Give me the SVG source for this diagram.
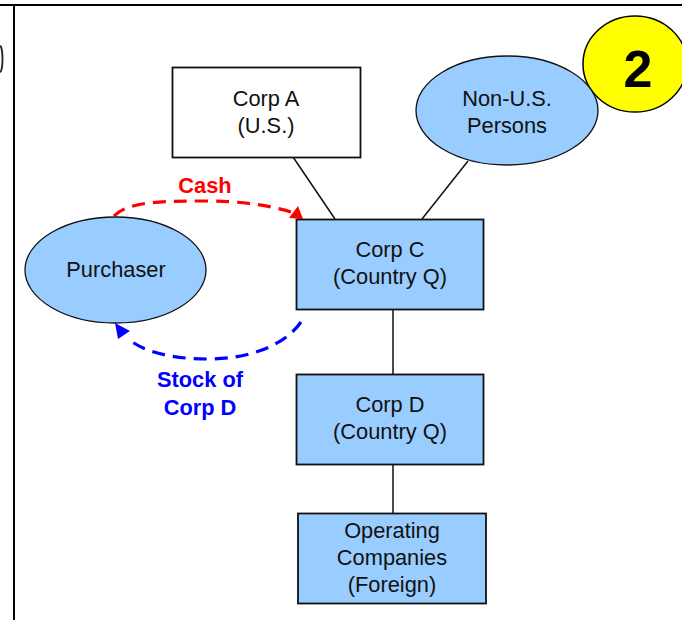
<svg xmlns="http://www.w3.org/2000/svg" width="682" height="620" viewBox="0 0 682 620">
<style>
text{font-family:"Liberation Sans",Arial,sans-serif;font-size:21.8px;fill:#111;text-anchor:middle}
.n{fill:#99ccff;stroke:#111;stroke-width:1.8}
.w{fill:#fff;stroke:#111;stroke-width:1.8}
.e{fill:#99ccff;stroke:#111;stroke-width:1.3}
.l{stroke:#111;stroke-width:1.5;fill:none}
.b{stroke:#000;stroke-width:2;fill:none}
.lab{font-weight:bold}
</style>
<rect width="682" height="620" fill="#fff"/>
<g id="frame">
<path class="b" d="M0 5H682M14 5V620"/>
<path d="M0 46 A2.500 13 0 0 1 0 72" fill="none" stroke="#222" stroke-width="1.800"/>
</g>
<g id="connectors">
<path class="l" d="M293 157L335 219M468 161L422 219M393 309V374M393 464V513"/>
<path d="M114 216C128 201 165 201 205 201C240 201 268 205 291 212" fill="none" stroke="#ff0000" stroke-width="3.200" stroke-dasharray="13 8"/>
<path d="M289 218L298 206L303 219Z" fill="#ff0000"/>
<path d="M301 322C285 345 250 359 208 359C170 359 142 351 127 338" fill="none" stroke="#0000ff" stroke-width="3.200" stroke-dasharray="13 8"/>
<path d="M115 323L130 331L118 339Z" fill="#0000ff"/>
</g>
<g id="corp-a"><rect class="w" x="172.500" y="67.500" width="188" height="90"/><text x="266" y="106">Corp A</text><text x="266" y="133">(U.S.)</text></g>
<g id="badge"><ellipse cx="635" cy="64" rx="52" ry="48" fill="#ffff00" stroke="#000" stroke-width="1.500"/><text x="638" y="87" style="font-size:52px;font-weight:bold;fill:#000">2</text></g>
<g id="non-us"><ellipse class="e" cx="507" cy="110.500" rx="91" ry="54.500"/><text x="507" y="106">Non-U.S.</text><text x="507" y="133">Persons</text></g>
<g id="purchaser"><ellipse class="e" cx="115.500" cy="270" rx="90.500" ry="53"/><text x="116" y="277">Purchaser</text></g>
<g id="corp-c"><rect class="n" x="296.500" y="219.500" width="187" height="90"/><text x="390" y="257">Corp C</text><text x="390" y="284">(Country Q)</text></g>
<g id="corp-d"><rect class="n" x="296.500" y="374.500" width="187" height="90"/><text x="390" y="412">Corp D</text><text x="390" y="439">(Country Q)</text></g>
<g id="operating"><rect class="n" x="298" y="513.500" width="188" height="90"/><text x="392" y="538">Operating</text><text x="392" y="565">Companies</text><text x="392" y="592">(Foreign)</text></g>
<g id="labels">
<text class="lab" x="205" y="193" style="fill:#ff0000">Cash</text>
<text class="lab" x="200" y="387" style="fill:#0000ff">Stock of</text>
<text class="lab" x="200" y="415" style="fill:#0000ff">Corp D</text>
</g>
</svg>
